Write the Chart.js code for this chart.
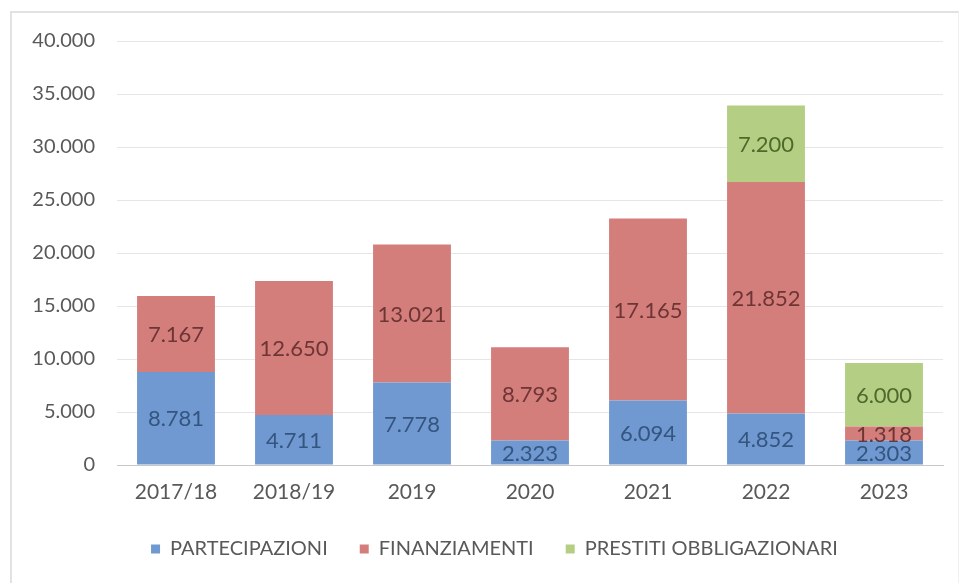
<!DOCTYPE html>
<html lang="it">
<head>
<meta charset="utf-8">
<title>Investimenti per anno</title>
<script src="https://cdn.jsdelivr.net/npm/chart.js@4"></script>
<style>
  html, body { margin: 0; padding: 0; background: #ffffff; }
  #wrap { position: relative; width: 960px; height: 583px; }
  #frame {
    position: absolute; left: 10px; top: 11px; width: 946px; height: 580px;
    border-top: 2px solid #e2e2e2; border-left: 2px solid #e2e2e2;
    border-right: 1px solid #f0f0f0; pointer-events: none;
  }
</style>
</head>
<body>
<div id="wrap">
  <canvas id="chart"></canvas>
  <div id="frame"></div>
</div>
<script>
// anni
const categories = ['2017/18', '2018/19', '2019', '2020', '2021', '2022', '2023'];

// valori per tipologia
const partecipazioni = [8781, 4711, 7778, 2323, 6094, 4852, 2303];
const finanziamenti = [7167, 12650, 13021, 8793, 17165, 21852, 1318];
const prestitiObbligazionari = [null, null, null, null, null, 7200, 6000];

const yTicks = [0, 5000, 10000, 15000, 20000, 25000, 30000, 35000, 40000];

// 12650 -> "12.650"
function fmt(n) {
  return String(n).replace(/\B(?=(\d{3})+(?!\d))/g, '.');
}

const labelColors = ['#34557f', '#6e3535', '#4d6a2c'];

// etichette dei valori al centro di ogni segmento
const barLabels = {
  id: 'barLabels',
  afterDatasetsDraw(chart) {
    const ctx = chart.ctx;
    ctx.save();
    ctx.font = '22px Lato';
    ctx.textAlign = 'center';
    ctx.textBaseline = 'middle';
    chart.data.datasets.forEach((ds, i) => {
      const meta = chart.getDatasetMeta(i);
      meta.data.forEach((bar, j) => {
        const v = ds.data[j];
        if (v == null) return;
        const p = bar.getProps(['x', 'y', 'base'], true);
        ctx.fillStyle = labelColors[i];
        ctx.fillText(fmt(v), p.x, (p.y + p.base) / 2 + 1);
      });
    });
    ctx.restore();
  }
};

// sposta un po' a destra la legenda, centrata sotto l'area del grafico
const legendShift = {
  id: 'legendShift',
  afterLayout(chart) {
    chart.legend.left += 23;
    chart.legend.right += 23;
  }
};

const ctx = document.getElementById('chart').getContext('2d');
new Chart(ctx, {
  type: 'bar',
  data: {
    labels: categories,
    datasets: [
      { label: 'PARTECIPAZIONI', data: partecipazioni, backgroundColor: '#7099d2', borderWidth: 0 },
      { label: 'FINANZIAMENTI', data: finanziamenti, backgroundColor: '#d47e7c', borderWidth: 0 },
      { label: 'PRESTITI OBBLIGAZIONARI', data: prestitiObbligazionari, backgroundColor: '#b4cf83', borderWidth: 0 }
    ]
  },
  options: {
    responsive: true,
    maintainAspectRatio: false,
    animation: false,
    layout: { padding: { left: 0, right: 17, top: 41, bottom: 14 } },
    datasets: { bar: { categoryPercentage: 0.66, barPercentage: 1 } },
    scales: {
      x: {
        stacked: true,
        grid: { display: false, drawTicks: false },
        border: { display: true, color: '#c8c8c8', width: 1 },
        ticks: { color: '#595959', font: { family: 'Lato', size: 21 }, padding: 15 },
        afterFit(scale) { scale.height = 42; }
      },
      y: {
        stacked: true,
        min: 0,
        max: 40000,
        afterBuildTicks(scale) { scale.ticks = yTicks.map(v => ({ value: v })); },
        grid: { color: '#e6e6e6', lineWidth: 1, drawTicks: false },
        border: { display: false },
        ticks: { color: '#595959', font: { family: 'Lato', size: 20 }, padding: 22, callback: v => fmt(v) },
        afterFit(scale) { scale.width = 117; }
      }
    },
    plugins: {
      legend: {
        position: 'bottom',
        labels: {
          color: '#595959',
          font: { family: 'Lato', size: 20 },
          boxWidth: 9,
          boxHeight: 9,
          padding: 32
        }
      },
      tooltip: { enabled: false }
    }
  },
  plugins: [barLabels, legendShift]
});
</script>
</body>
</html>
